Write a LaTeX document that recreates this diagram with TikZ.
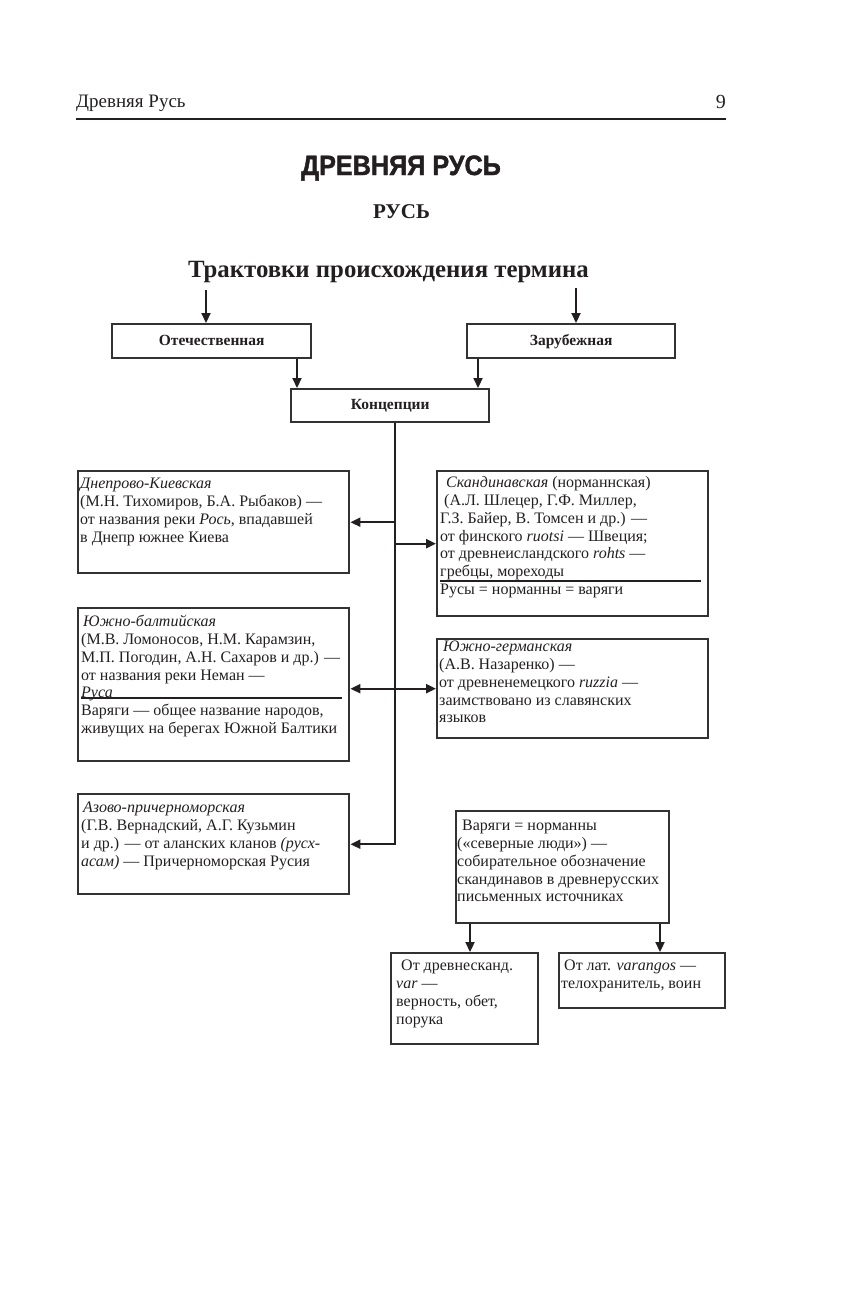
\documentclass[tikz,border=0pt]{standalone}
\usepackage{fontspec}
\setmainfont{Liberation Serif}
\newfontfamily\headsans{Liberation Sans}[BoldFeatures={FakeBold=1.6}, FakeStretch=0.9]
\usetikzlibrary{arrows.meta}
\definecolor{ink}{RGB}{35,31,32}
\definecolor{boxline}{RGB}{50,50,50}
\tikzset{
  box/.style={draw=boxline, line width=2.4pt, inner sep=0pt, anchor=north west},
  hbox/.style={box, font=\fontsize{15.5}{17}\selectfont\bfseries, text=ink,
               text height=11pt, text depth=3pt},
  txt/.style={anchor=north west, inner sep=0pt, align=left, text=ink,
              font=\fontsize{16}{17.8}\selectfont},
  arr/.style={draw=ink, line width=2.2pt, -{Triangle[length=10pt,width=9pt]}},
  darr/.style={draw=ink, line width=2.2pt, {Triangle[length=10pt,width=9pt]}-{Triangle[length=10pt,width=9pt]}},
  divider/.style={draw=ink, line width=1.1pt}
}
\begin{document}
\begin{tikzpicture}[x=1pt, y=-1pt]
\useasboundingbox (0,0) rectangle (845,1312);

% page header
\node[anchor=base west, inner sep=0pt, text=ink, font=\fontsize{19}{22}\selectfont] (hdr) at (76,107) {Древняя Русь};
\node[anchor=base east, inner sep=0pt, text=ink, font=\fontsize{20}{22}\selectfont] (pg) at (726,108) {9};
\draw[ink, line width=1.3pt] (76,119) -- (726,119);

% titles
\node[anchor=base, inner sep=0pt, text=ink, font=\headsans\fontsize{28}{30}\selectfont\bfseries] (t1) at (401,175) {ДРЕВНЯЯ РУСЬ};
\node[anchor=base, inner sep=0pt, text=ink, font=\fontsize{21}{24}\selectfont\bfseries] (t2) at (401.5,218) {РУСЬ};
\node[anchor=base, inner sep=0pt, text=ink, font=\fontsize{24.8}{28}\selectfont\bfseries] (t3) at (388.5,277) {Трактовки происхождения термина};

% top boxes
\node[hbox, minimum width=199pt, minimum height=34pt] (otech) at (111,323) {Отечественная};
\node[hbox, minimum width=208pt, minimum height=34pt] (zarub) at (466,323) {Зарубежная};
\node[hbox, minimum width=198pt, minimum height=33pt] (konc) at (290,388) {Концепции};

\coordinate (ta) at (206,290);
\coordinate (tb) at (576,288);
\draw[arr] (ta) -- (ta |- otech.north);
\draw[arr] (tb) -- (tb |- zarub.north);
\coordinate (ka) at (297,0);
\coordinate (kb) at (478,0);
\draw[arr] (ka |- otech.south) -- (ka |- konc.north);
\draw[arr] (kb |- zarub.south) -- (kb |- konc.north);

% concept boxes
\node[box, minimum width=271pt, minimum height=102pt] (dnep) at (77,470) {};
\node[box, minimum width=271pt, minimum height=145pt] (scand) at (436,470) {};
\node[box, minimum width=271pt, minimum height=153pt] (balt) at (77,607) {};
\node[box, minimum width=271pt, minimum height=99pt] (germ) at (436,638) {};
\node[box, minimum width=271pt, minimum height=100pt] (azov) at (77,793) {};

\node[txt] (tdnep) at (80,476) {\strut\textit{Днепрово-Киевская}\\
(М.Н. Тихомиров, Б.А. Рыбаков) —\\
от названия реки \textit{Рось}, впадавшей\\
в Днепр южнее Киева};

\node[txt] (tscand) at (440,475) {\strut\hspace{6pt}\textit{Скандинавская} (норманнская)\\
\hspace{4pt}(А.Л. Шлецер, Г.Ф. Миллер,\\
Г.З. Байер, В. Томсен и др.) —\\
от финского \textit{ruotsi} — Швеция;\\
от древнеисландского \textit{rohts} —\\
гребцы, мореходы\\
Русы = норманны = варяги};
\draw[divider] (440,581) -- (701,581);

\node[txt] (tbalt) at (81,614) {\strut\hspace{2pt}\textit{Южно-балтийская}\\
(М.В. Ломоносов, Н.М. Карамзин,\\
М.П. Погодин, А.Н. Сахаров и др.) —\\
от названия реки Неман —\\
\textit{Руса}\\
Варяги — общее название народов,\\
живущих на берегах Южной Балтики};
\draw[divider] (81,698) -- (342,698);

\node[txt] (tgerm) at (439,639) {\strut\hspace{4pt}\textit{Южно-германская}\\
(А.В. Назаренко) —\\
от древненемецкого \textit{ruzzia} —\\
заимствовано из славянских\\
языков};

\node[txt] (tazov) at (81,800) {\strut\hspace{2pt}\textit{Азово-причерноморская}\\
(Г.В. Вернадский, А.Г. Кузьмин\\
и др.) — от аланских кланов \textit{(русх-}\\
\textit{асам)} — Причерноморская Русия};

% trunk and branches
\coordinate (T) at (395,0);
\draw[arr] (T |- konc.south) -- (T |- azov.east) -- (azov.east);
\draw[arr] (T |- dnep.east) -- (dnep.east);
\draw[arr] (T |- scand.west) -- (scand.west);
\draw[darr] (balt.east |- germ.west) -- (germ.west);

% varangian boxes
\node[box, minimum width=213pt, minimum height=112pt] (var) at (455,810) {};
\node[box, minimum width=147pt, minimum height=91pt] (drev) at (390,952) {};
\node[box, minimum width=166pt, minimum height=55pt] (lat) at (558,952) {};

\node[txt] (tvar) at (457,818) {\strut\hspace{5pt}Варяги = норманны\\
(«северные люди») —\\
собирательное обозначение\\
скандинавов в древнерусских\\
письменных источниках};

\node[txt] (tdrev) at (396,958) {\strut\hspace{5pt}От древнесканд.\\
\textit{var} —\\
верность, обет,\\
порука};

\node[txt] (tlat) at (561,958) {\strut\hspace{3pt}От лат. \textit{varangos} —\\
телохранитель, воин};

\coordinate (va) at (470,0);
\coordinate (vb) at (660,0);
\draw[arr] (va |- var.south) -- (va |- drev.north);
\draw[arr] (vb |- var.south) -- (vb |- lat.north);
\end{tikzpicture}
\end{document}
